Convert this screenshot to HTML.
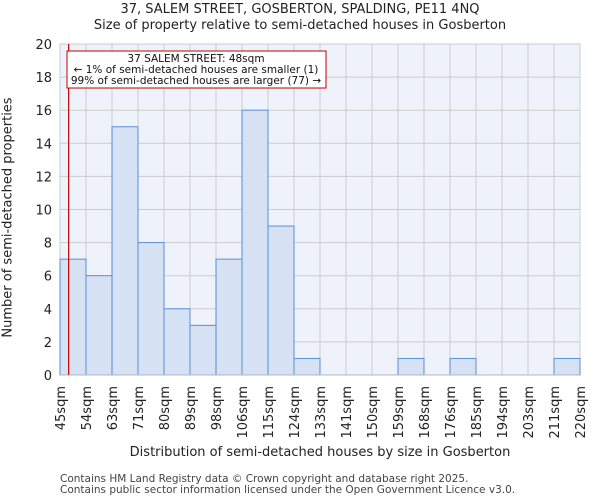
<!DOCTYPE html>
<html><head><meta charset="utf-8"><style>
body{margin:0;background:#fff;}
svg{display:block;font-family:"DejaVu Sans","Liberation Sans",sans-serif;}
</style></head><body>
<svg id="c" width="600" height="500"></svg>
<script>
const categories=["45sqm","54sqm","63sqm","71sqm","80sqm","89sqm","98sqm","106sqm","115sqm","124sqm","133sqm","141sqm","150sqm","159sqm","168sqm","176sqm","185sqm","194sqm","203sqm","211sqm","220sqm"];
const counts=[7,6,15,8,4,3,7,16,9,1,0,0,0,1,0,1,0,0,0,1];
const yTicks=[0,2,4,6,8,10,12,14,16,18,20];
const propertyBinPos=[3/9];
const NS="http://www.w3.org/2000/svg";
const svg=document.getElementById('c');
const L=60,R=580,T=44,B=375,yMax=20;
const bw=(R-L)/counts.length;
const x=i=>L+i*bw;
const y=v=>B-(v/yMax)*(B-T);
function mk(tag,attrs,parent){const e=document.createElementNS(NS,tag);for(const k in attrs)e.setAttribute(k,attrs[k]);(parent||svg).appendChild(e);return e;}
let e;
e=mk('rect',{x:L,y:T,width:R-L,height:B-T,fill:'#eef2fb'});


yTicks.forEach(t=>{
 e=mk('line',{x1:L,x2:R,y1:y(t),y2:y(t),stroke:'#cccccc','stroke-width':1});
 
 
 e=mk('text',{x:L-8,y:y(t)+5,'text-anchor':'end','font-size':13,fill:'#222'});
 e.textContent=t;
 
 
});
categories.forEach((c,i)=>{
 e=mk('line',{x1:x(i),x2:x(i),y1:T,y2:B,stroke:'#cccccc','stroke-width':1});
 
 
 e=mk('text',{transform:`translate(${x(i)+5},386) rotate(-90)`,'text-anchor':'end','font-size':13,fill:'#222'});
 e.textContent=c;
 
 
});
counts.forEach((v,i)=>{
 if(v<=0)return;
 e=mk('rect',{x:x(i),y:y(v),width:bw,height:B-y(v),fill:'#d6e1f3',stroke:'#5b8fd6','stroke-width':1});
 
 
});
e=mk('line',{x1:L,x2:R,y1:B,y2:B,stroke:'#b0b8c8','stroke-width':1});


const px=x(propertyBinPos[0]);
e=mk('line',{x1:px,x2:px,y1:T,y2:B,stroke:'#c00000','stroke-width':1.2});


const g=mk('g',{});


mk('rect',{x:67,y:51,width:259,height:37,fill:'#fff',stroke:'#c00000','stroke-width':1},g);
[["37 SALEM STREET: 48sqm",62],["← 1% of semi-detached houses are smaller (1)",73],["99% of semi-detached houses are larger (77) →",84]].forEach(([t,yy])=>{
 const tx=mk('text',{x:196,y:yy,'text-anchor':'middle','font-size':10.5,fill:'#111'},g);tx.textContent=t;
});
</script>
<div style="position:absolute;left:0;top:0;width:600px;height:500px;pointer-events:none;font-family:'DejaVu Sans','Liberation Sans',sans-serif;color:#222;">
<div style="position:absolute;top:2px;left:0;width:600px;text-align:center;font-size:13px;line-height:16px;">37, SALEM STREET, GOSBERTON, SPALDING, PE11 4NQ<br>Size of property relative to semi-detached houses in Gosberton</div>
<div style="position:absolute;top:445px;left:60px;width:520px;text-align:center;font-size:13px;">Distribution of semi-detached houses by size in Gosberton</div>
<div style="position:absolute;left:-142px;top:210px;width:300px;text-align:center;font-size:13px;white-space:nowrap;transform:rotate(-90deg);">Number of semi-detached properties</div>
<div style="position:absolute;left:60px;top:474px;font-size:10.5px;line-height:11px;color:#444;">Contains HM Land Registry data © Crown copyright and database right 2025.<br>Contains public sector information licensed under the Open Government Licence v3.0.</div>
</div>
</body></html>
